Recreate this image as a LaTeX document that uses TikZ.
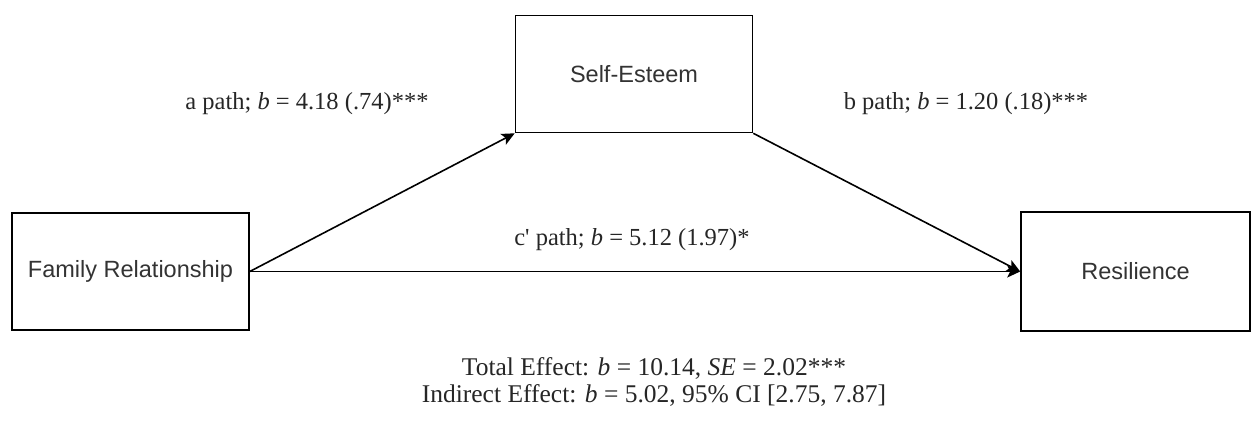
\documentclass[tikz,border=0pt]{standalone}
\usepackage{fontspec}
\setmainfont{Liberation Serif}[Ligatures=TeXOff]
\newfontfamily\boxfont{Liberation Sans}
\usetikzlibrary{arrows.meta}
\begin{document}
\begin{tikzpicture}[x=1pt,y=-1pt,
  box/.style={draw=black, line width=1.6pt, minimum width=237pt, minimum height=117pt, inner sep=0pt,
    font=\boxfont\fontsize{23.5}{28}\selectfont, text=black!80},
  lab/.style={font=\fontsize{24.5}{27}\selectfont, text=black!85, inner sep=0pt, align=center},
  arr/.style={line width=1.6pt, -{Stealth[length=13pt,width=12pt,inset=3pt]}}]
\useasboundingbox (0,0) rectangle (1252,421);
\node[box] (fam) at (130.5,271.5) {Family Relationship};
\node[box] (se) at (634,74) {Self-Esteem};
\node[box, minimum width=229pt, minimum height=119pt] (res) at (1135.5,271.5) {Resilience};
\draw[arr] (fam.east) -- (se.south west);
\draw[arr] (se.south east) -- (res.west);
\draw[arr] (fam.east) -- (res.west);
\node[lab] (la) at (307,104) {a path; \textit{b} = 4.18 (.74)***};
\node[lab] (lb) at (966,104) {b path; \textit{b} = 1.20 (.18)***};
\node[lab] (lc) at (632,240) {c' path; \textit{b} = 5.12 (1.97)*};
\node[lab, font=\fontsize{25.5}{27}\selectfont] (tot) at (654,382) {Total Effect: \textit{b} = 10.14, \textit{SE} = 2.02***\\Indirect Effect: \textit{b} = 5.02, 95\% CI [2.75, 7.87]};
\end{tikzpicture}
\end{document}
